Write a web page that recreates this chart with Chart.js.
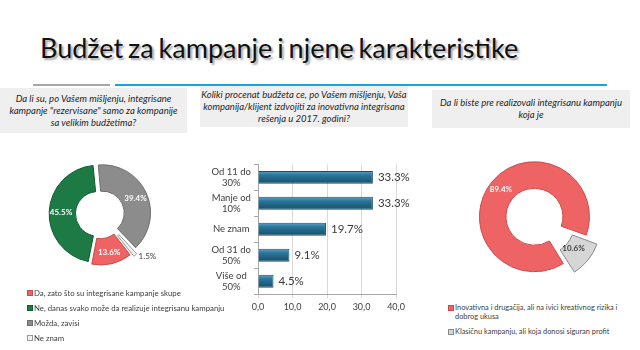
<!DOCTYPE html>
<html>
<head>
<meta charset="utf-8">
<script src="https://cdn.jsdelivr.net/npm/chart.js@4.4.0/dist/chart.umd.min.js"></script>
<style>
body { margin:0; width:640px; height:350px; position:relative; overflow:hidden; background:#fff; font-family: Lato, "Open Sans", sans-serif; }
#naslov { position:absolute; left:40px; top:34px; font-size:27px; line-height:1; word-spacing:-2px; color:#111; text-shadow:2px 2px 2px rgba(0,0,0,0.35); white-space:nowrap; }
.linija { position:absolute; top:84px; height:2px; }
.pitanje { position:absolute; background:#efefef; font-style:italic; font-size:9.5px; color:#262626; text-align:center; line-height:12px; box-sizing:border-box; display:flex; align-items:center; justify-content:center; white-space:nowrap; }
.platno { position:absolute; }
.legenda { position:absolute; color:#404040; white-space:nowrap; }
.legenda div { position:relative; padding-left:7px; }
.legenda span { position:absolute; left:0; width:4px; height:4px; border:1px solid #777; }
#leg1 { font-size:7.8px; line-height:10px; }
#leg1 div { margin-bottom:5px; }
#leg1 span { top:2px; }
#leg2 { font-size:7.4px; line-height:9px; }
#leg2 div { margin-bottom:6px; }
#leg2 span { top:1.5px; }
</style>
</head>
<body>
<div id="naslov">Budžet za kampanje i njene karakteristike</div>
<div class="linija" style="left:33px;width:77px;background:#a6a6a6"></div>
<div class="linija" style="left:115px;width:492px;background:#1aa3dd"></div>

<div class="pitanje" style="left:0;top:88px;width:187px;height:45px">Da li su, po Vašem mišljenju, integrisane<br>kampanje "rezervisane" samo za kompanije<br>sa velikim budžetima?</div>
<div class="pitanje" style="left:200px;top:86px;width:208px;height:41px">Koliki procenat budžeta ce, po Vašem mišljenju, Vaša<br>kompanija/klijent izdvojiti za inovativna integrisana<br>rešenja u 2017. godini?</div>
<div class="pitanje" style="left:432px;top:90px;width:198px;height:38px">Da li biste pre realizovali integrisanu kampanju<br>koja je</div>

<canvas class="platno" id="krug1" style="left:40px;top:154px;width:120px;height:120px"></canvas>
<canvas class="platno" id="stubovi" style="left:190px;top:150px;width:228px;height:165px"></canvas>
<canvas class="platno" id="krug2" style="left:466px;top:148px;width:140px;height:140px"></canvas>

<div class="legenda" id="leg1" style="left:27px;top:288px"></div>
<div class="legenda" id="leg2" style="left:448px;top:303px"></div>

<script>
// pitanje 1
var odgovori1 = ["Da, zato što su integrisane kampanje skupe", "Ne, danas svako može da realizuje integrisanu kampanju", "Možda, zavisi", "Ne znam"];
var procenti1 = [13.6, 45.5, 39.4, 1.5];
var boje1 = ["#ee6464", "#1d7a45", "#8c8c8c", "#f2f2f2"];
var ivice1 = ["#d04848", "#125a31", "#6e6e6e", "#9a9a9a"];

// pitanje 2
var kategorije2 = [["Od 11 do", "30%"], ["Manje od", "10%"], "Ne znam", ["Od 31 do", "50%"], ["Više od", "50%"]];
var procenti2 = [33.3, 33.3, 19.7, 9.1, 4.5];
var osaX2 = [0, 10, 20, 30, 40];

// pitanje 3
var odgovori3 = [["Inovativna i drugačija, ali na ivici kreativnog rizika i", "dobrog ukusa"], "Klasičnu kampanju, ali koja donosi siguran profit"];
var procenti3 = [89.4, 10.6];
var boje3 = ["#ee6464", "#d6d6d6"];
var ivice3 = ["#d04848", "#8a8a8a"];

// ispisuje vrednosti na krugovima i stubovima
var vrednostiPlugin = {
    id: 'vrednosti',
    afterDatasetsDraw: function (chart, args, opts) {
        var ctx = chart.ctx;
        var meta = chart.getDatasetMeta(0);
        var podaci = chart.data.datasets[0].data;
        ctx.save();
        meta.data.forEach(function (el, i) {
            var tekst = podaci[i].toFixed(1) + '%';
            if (meta.type === 'bar') {
                ctx.font = '11.5px Lato';
                ctx.fillStyle = '#3a3a3a';
                ctx.textAlign = 'left';
                ctx.textBaseline = 'middle';
                ctx.fillText(tekst, el.x + 5, el.y);
                return;
            }
            var p = el.getProps(['x', 'y', 'startAngle', 'endAngle', 'innerRadius', 'outerRadius']);
            var ugao = (p.startAngle + p.endAngle) / 2;
            var luk = p.endAngle - p.startAngle;
            var pomak = (el.options.offset || 0) / 4 * (2 - Math.sin(Math.min(Math.PI, luk)));
            ctx.font = 'bold 8px Lato';
            ctx.fillStyle = opts.boje[i];
            ctx.textBaseline = 'middle';
            if (opts.spolja[i]) {
                var r = p.outerRadius + pomak + 2;
                ctx.font = '8px Lato';
                ctx.textAlign = 'left';
                ctx.fillText(tekst, p.x + Math.cos(ugao) * r + 2, p.y + Math.sin(ugao) * r);
            } else {
                var r2 = p.innerRadius + (p.outerRadius - p.innerRadius) * opts.polozaj[i] + pomak;
                ctx.textAlign = 'center';
                ctx.fillText(tekst, p.x + Math.cos(ugao) * r2, p.y + Math.sin(ugao) * r2);
            }
        });
        ctx.restore();
    }
};

function napraviLegendu(id, nazivi, boje, ivice) {
    var el = document.getElementById(id);
    for (var i = 0; i < nazivi.length; i++) {
        var red = document.createElement('div');
        var tekst = Array.isArray(nazivi[i]) ? nazivi[i].join('<br>') : nazivi[i];
        red.innerHTML = '<span style="background:' + boje[i] + ';border-color:' + ivice[i] + '"></span>' + tekst;
        el.appendChild(red);
    }
}

function krug(id, labele, vrednosti, boje, ivice, rotacija, radijus, izrez, pomeraji, opts) {
    return new Chart(document.getElementById(id), {
        type: 'doughnut',
        data: {
            labels: labele,
            datasets: [{
                data: vrednosti,
                backgroundColor: boje,
                borderColor: ivice,
                borderWidth: 1,
                offset: pomeraji
            }]
        },
        options: {
            responsive: false,
            animation: false,
            rotation: rotacija,
            radius: radijus,
            cutout: izrez,
            plugins: { legend: { display: false }, tooltip: { enabled: false }, vrednosti: opts }
        },
        plugins: [vrednostiPlugin]
    });
}

// gradijent za stubove (svetliji gore, tamniji dole)
function bojaStuba(c) {
    var chart = c.chart;
    if (!chart.chartArea || !chart.scales.y) return '#226d92';
    var y = chart.scales.y.getPixelForValue(c.dataIndex);
    var g = chart.ctx.createLinearGradient(0, y - 6, 0, y + 6);
    g.addColorStop(0, '#5a9fc2');
    g.addColorStop(0.3, '#2a769b');
    g.addColorStop(1, '#184f6d');
    return g;
}

function init() {
    krug('krug1', odgovori1, procenti1, boje1, ivice1, 142, 47, '44%', [13, 9, 11, 15],
        { spolja: [false, false, false, true], polozaj: [0.55, 0.55, 0.55, 0], boje: ['#fff', '#fff', '#fff', '#404040'] });
    krug('krug2', odgovori3, procenti3, boje3, ivice3, 148, 53, '50%', [8, 40],
        { spolja: [false, false], polozaj: [0.55, 0.3], boje: ['#fff', '#404040'] });

    new Chart(document.getElementById('stubovi'), {
        type: 'bar',
        data: {
            labels: kategorije2,
            datasets: [{
                data: procenti2,
                backgroundColor: bojaStuba,
                borderColor: '#164e6b',
                borderWidth: 1,
                categoryPercentage: 1,
                barPercentage: 0.5
            }]
        },
        options: {
            indexAxis: 'y',
            responsive: false,
            animation: false,
            layout: { padding: { top: 13, right: 22 } },
            scales: {
                x: {
                    min: osaX2[0],
                    max: osaX2[osaX2.length - 1],
                    ticks: {
                        stepSize: osaX2[1] - osaX2[0],
                        font: { family: 'Lato', size: 9 },
                        color: '#404040',
                        callback: function (v) { return v.toFixed(1).replace('.', ','); }
                    },
                    grid: { color: '#d9d9d9', tickLength: 4 },
                    border: { color: '#a6a6a6' }
                },
                y: {
                    afterFit: function (s) { s.width = 68; },
                    ticks: { font: { family: 'Lato', size: 9.5 }, color: '#404040', crossAlign: 'center' },
                    grid: { drawOnChartArea: false, tickLength: 4, color: '#a6a6a6' },
                    border: { color: '#a6a6a6' }
                }
            },
            plugins: { legend: { display: false }, tooltip: { enabled: false } }
        },
        plugins: [vrednostiPlugin]
    });

    napraviLegendu('leg1', odgovori1, boje1, ivice1);
    napraviLegendu('leg2', odgovori3, boje3, ivice3);
}

window.onload = function () {
    init();
};
</script>
</body>
</html>
